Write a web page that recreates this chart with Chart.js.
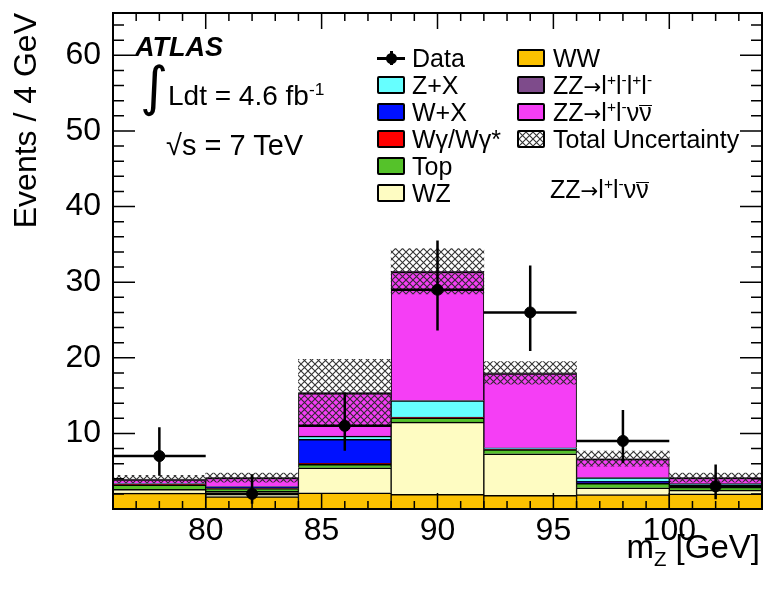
<!DOCTYPE html>
<html>
<head>
<meta charset="utf-8">
<script src="https://cdn.jsdelivr.net/npm/chart.js@4.4.0/dist/chart.umd.min.js"></script>
<style>
  body { margin: 0; background: #fff; }
  #wrap { position: relative; width: 763px; height: 591px; font-family: "Liberation Sans", Arial, sans-serif; color: #000; }
  #wrap canvas { position: absolute; left: 0; top: 0; }
  .txt { position: absolute; white-space: nowrap; line-height: 1; }
  .sw { position: absolute; width: 28px; height: 18px; box-sizing: border-box; border: 2px solid #000; border-radius: 2px; }
  sup, sub { font-size: 0.62em; line-height: 0; }
  .bar { display: inline-block; line-height: 0.5; border-top: 1.5px solid #000; }
  .arr { font-family: "DejaVu Sans", sans-serif; font-size: 0.85em; }
</style>
</head>
<body>
<div id="wrap">
  <canvas id="chart" width="763" height="591"></canvas>
  <div class="txt" style="left:135px; top:34px; font-size:27px; font-weight:bold; font-style:italic;">ATLAS</div>
  <div class="txt" style="left:140px; top:60px; font-size:54px; font-family:'DejaVu Sans';">&#8747;</div>
  <div class="txt" style="left:168px; top:82px; font-size:28px;">Ldt = 4.6 fb<sup>-1</sup></div>
  <div class="txt" style="left:166px; top:131px; font-size:29px;">&#8730;s = 7 TeV</div>
  <div class="txt" style="left:550px; top:177px; font-size:25px;">ZZ<span class="arr">&rarr;</span>l<sup>+</sup>l<sup>-</sup>&nu;<span class="bar">&nu;</span></div>
  <div class="txt" style="right:3px; top:530px; font-size:33px;">m<sub>Z</sub> [GeV]</div>
  <div id="legend"></div>
</div>
<script>
// bins of m_Z (GeV)
const binLo  = [76, 80, 84, 88, 92, 96, 100];
const binHi  = [80, 84, 88, 92, 96, 100, 104];
const binMid = [78, 82, 86, 90, 94, 98, 102];

// expected events per bin, bottom of the stack first
const wwVals   = [2.10, 1.65, 2.15, 1.95, 1.80, 1.90, 2.00];
const wzVals   = [0.50, 0.70, 3.30, 9.55, 5.50, 0.90, 0.50];
const topVals  = [0.60, 0.35, 0.45, 0.55, 0.55, 0.60, 0.40];
const wgVals   = [0.05, 0.05, 0.15, 0.05, 0.05, 0.05, 0.05];
const wxVals   = [0.05, 0.10, 3.15, 0.05, 0.05, 0.20, 0.10];
const zxVals   = [0.05, 0.10, 0.45, 2.20, 0.15, 0.50, 0.30];
const zzNuVals = [0.55, 1.15, 5.65, 17.0, 9.80, 2.45, 0.75];
const zz4lVals = [0.05, 0.05, 0.10, 0.10, 0.10, 0.05, 0.05];
const totalUnc = [0.5, 0.6, 4.4, 3.0, 1.5, 1.0, 0.6];

// observed data
const dataCounts  = [7, 2, 11, 29, 26, 9, 3];
const dataErrUp   = [3.8, 2.6, 4.4, 6.5, 6.2, 4.1, 2.9];
const dataErrDown = [2.6, 1.3, 3.3, 5.4, 5.1, 2.9, 1.7];

const xTickLabels = [80, 85, 90, 95, 100];
const yTickLabels = [10, 20, 30, 40, 50, 60];
const xMin = 76, xMax = 104, yMax = 65.6;
const xMinorStep = 1, yMinorStep = 2;

const stackSeries = [
  { label: 'WW',          values: wwVals,   color: '#fbc100' },
  { label: 'WZ',          values: wzVals,   color: '#fefcc2' },
  { label: 'Top',         values: topVals,  color: '#55c22a' },
  { label: 'Wγ/Wγ*',      values: wgVals,   color: '#ff0000' },
  { label: 'W+X',         values: wxVals,   color: '#0011ff' },
  { label: 'Z+X',         values: zxVals,   color: '#66ffff' },
  { label: 'ZZ→l+l-νν',   values: zzNuVals, color: '#f53ef5' },
  { label: 'ZZ→l+l-l+l-', values: zz4lVals, color: '#7e4b8b' }
];

function makeHatch() {
  const c = document.createElement('canvas');
  c.width = 7; c.height = 7;
  const g = c.getContext('2d');
  g.strokeStyle = 'rgba(40,40,40,0.95)';
  g.lineWidth = 1.1;
  g.beginPath();
  g.moveTo(-1, -1); g.lineTo(8, 8);
  g.moveTo(8, -1); g.lineTo(-1, 8);
  g.stroke();
  return c;
}
const hatchTile = makeHatch();
const hatch = document.createElement('canvas').getContext('2d').createPattern(hatchTile, 'repeat');

const totals = binMid.map((_, i) => stackSeries.reduce((s, d) => s + d.values[i], 0));

const datasets = stackSeries.map(s => ({
  type: 'bar',
  label: s.label,
  data: binMid.map((x, i) => ({ x: x, y: s.values[i] })),
  backgroundColor: s.color,
  borderColor: '#000',
  borderWidth: { top: 1.5, left: 1, right: 1, bottom: 0 },
  yAxisID: 'y'
}));

datasets.push({
  type: 'bar',
  label: 'Total Uncertainty',
  data: binMid.map((x, i) => ({ x: x, y: [totals[i] - totalUnc[i], totals[i] + totalUnc[i]] })),
  backgroundColor: hatch,
  borderWidth: 0,
  yAxisID: 'yFree',
  order: -1
});

datasets.push({
  type: 'line',
  label: 'Data',
  data: binMid.map((x, i) => ({ x: x, y: dataCounts[i] })),
  showLine: false,
  pointRadius: 5.5,
  pointBackgroundColor: '#000',
  pointBorderColor: '#000',
  yAxisID: 'yFree',
  order: -2
});

const errorBars = {
  id: 'errorBars',
  afterDatasetsDraw(chart) {
    const ctx = chart.ctx, xs = chart.scales.x, ys = chart.scales.yFree;
    ctx.save();
    ctx.strokeStyle = '#000';
    ctx.lineWidth = 2.5;
    ctx.beginPath();
    dataCounts.forEach((n, i) => {
      const px = xs.getPixelForValue(binMid[i]);
      const py = ys.getPixelForValue(n);
      ctx.moveTo(xs.getPixelForValue(binLo[i]), py);
      ctx.lineTo(xs.getPixelForValue(binHi[i]), py);
      ctx.moveTo(px, ys.getPixelForValue(n + dataErrUp[i]));
      ctx.lineTo(px, ys.getPixelForValue(n - dataErrDown[i]));
    });
    ctx.stroke();
    ctx.restore();
  }
};

// ROOT style frame with ticks on the inside of all four sides
const frameTicks = {
  id: 'frameTicks',
  afterDraw(chart) {
    const ctx = chart.ctx, a = chart.chartArea, xs = chart.scales.x, ys = chart.scales.y;
    ctx.save();
    ctx.strokeStyle = '#000';
    ctx.lineWidth = 1.5;
    ctx.beginPath();
    for (let v = Math.ceil(xs.min); v <= xs.max; v += xMinorStep) {
      const px = xs.getPixelForValue(v);
      const len = v % 5 === 0 ? 16 : 8;
      ctx.moveTo(px, a.bottom); ctx.lineTo(px, a.bottom - len);
      ctx.moveTo(px, a.top); ctx.lineTo(px, a.top + len);
    }
    for (let v = 0; v <= ys.max; v += yMinorStep) {
      const py = ys.getPixelForValue(v);
      const len = v % 10 === 0 ? 22 : 11;
      ctx.moveTo(a.left, py); ctx.lineTo(a.left + len, py);
      ctx.moveTo(a.right, py); ctx.lineTo(a.right - len, py);
    }
    ctx.stroke();
    ctx.lineWidth = 2;
    ctx.strokeRect(a.left, a.top, a.right - a.left, a.bottom - a.top);
    ctx.restore();
  }
};

const fontFamily = '"Liberation Sans", Arial, sans-serif';

new Chart(document.getElementById('chart'), {
  type: 'bar',
  data: { datasets: datasets },
  options: {
    responsive: false,
    animation: false,
    events: [],
    devicePixelRatio: 1,
    layout: { autoPadding: false, padding: { top: 13, right: 1, left: 0, bottom: 0 } },
    plugins: { legend: { display: false }, tooltip: { enabled: false } },
    datasets: { bar: { grouped: false, barPercentage: 1, categoryPercentage: 1 } },
    scales: {
      x: {
        type: 'linear', min: xMin, max: xMax, offset: false,
        grid: { display: false, drawTicks: false, offset: false },
        border: { display: false },
        afterBuildTicks: s => { s.ticks = xTickLabels.map(v => ({ value: v })); },
        afterFit: s => { s.height = 82; s.paddingLeft = 0; s.paddingRight = 0; },
        ticks: { autoSkip: false, maxRotation: 0, padding: 3, color: '#000', font: { family: fontFamily, size: 32 } }
      },
      y: {
        type: 'linear', min: 0, max: yMax, stacked: true,
        grid: { display: false, drawTicks: false },
        border: { display: false },
        afterBuildTicks: s => { s.ticks = yTickLabels.map(v => ({ value: v })); },
        afterFit: s => { s.width = 113; s.paddingTop = 0; s.paddingBottom = 0; },
        ticks: { padding: 12, color: '#000', font: { family: fontFamily, size: 32 } },
        title: { display: true, text: 'Events / 4 GeV', align: 'end', color: '#000',
                 font: { family: fontFamily, size: 32 }, padding: { top: 8, bottom: 0 } }
      },
      yFree: { type: 'linear', display: false, min: 0, max: yMax }
    }
  },
  plugins: [errorBars, frameTicks]
});

// legend in two columns, drawn inside the frame like the original
const legendRows = [58, 85, 112, 139, 166, 193];
const legendCols = [{ sw: 377, tx: 412 }, { sw: 517, tx: 553 }];
const colorOf = name => stackSeries.find(s => s.label === name).color;
const arrow = '<span class="arr">&rarr;</span>';
const legendItems = [
  { col: 0, row: 0, kind: 'data', html: 'Data' },
  { col: 0, row: 1, fill: colorOf('Z+X'), html: 'Z+X' },
  { col: 0, row: 2, fill: colorOf('W+X'), html: 'W+X' },
  { col: 0, row: 3, fill: colorOf('Wγ/Wγ*'), html: 'W&gamma;/W&gamma;*' },
  { col: 0, row: 4, fill: colorOf('Top'), html: 'Top' },
  { col: 0, row: 5, fill: colorOf('WZ'), html: 'WZ' },
  { col: 1, row: 0, fill: colorOf('WW'), html: 'WW' },
  { col: 1, row: 1, fill: colorOf('ZZ→l+l-l+l-'), html: 'ZZ' + arrow + 'l<sup>+</sup>l<sup>-</sup>l<sup>+</sup>l<sup>-</sup>' },
  { col: 1, row: 2, fill: colorOf('ZZ→l+l-νν'), html: 'ZZ' + arrow + 'l<sup>+</sup>l<sup>-</sup>&nu;<span class="bar">&nu;</span>' },
  { col: 1, row: 3, kind: 'hatch', html: 'Total Uncertainty' }
];
const legend = document.getElementById('legend');
const hatchUrl = hatchTile.toDataURL();
legendItems.forEach(it => {
  const c = legendCols[it.col], y = legendRows[it.row];
  if (it.kind === 'data') {
    legend.insertAdjacentHTML('beforeend',
      `<div style="position:absolute;left:${c.sw}px;top:${y - 1}px;width:28px;height:2.5px;background:#000"></div>` +
      `<div style="position:absolute;left:${c.sw + 13}px;top:${y - 7}px;width:2.5px;height:14px;background:#000"></div>` +
      `<div style="position:absolute;left:${c.sw + 9}px;top:${y - 5}px;width:11px;height:11px;border-radius:50%;background:#000"></div>`);
  } else {
    const bg = it.kind === 'hatch' ? `background:#fff url(${hatchUrl}) repeat` : `background:${it.fill}`;
    legend.insertAdjacentHTML('beforeend',
      `<div class="sw" style="left:${c.sw}px;top:${y - 9}px;${bg}"></div>`);
  }
  legend.insertAdjacentHTML('beforeend',
    `<div class="txt" style="left:${c.tx}px;top:${y - 12}px;font-size:25px;">${it.html}</div>`);
});
</script>
</body>
</html>
